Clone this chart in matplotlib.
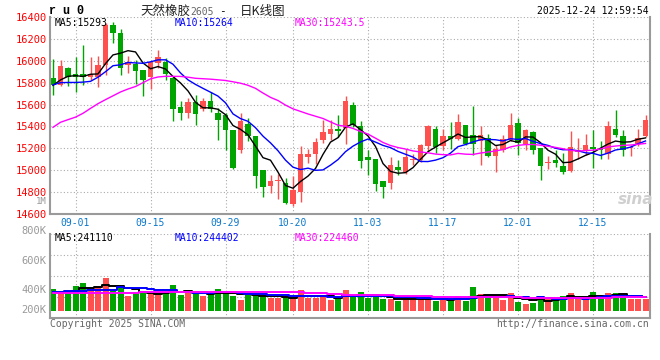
import numpy as np
import pandas as pd
import matplotlib
matplotlib.use("Agg")
import matplotlib.pyplot as plt

# ru0 daily bars, 80 sessions ending 2025-12-24
opens = [15846, 15782, 15937, 15882, 15882, 15852, 15852, 15958, 16330, 16255,
         15960, 15973, 15912, 15855, 15980, 15990, 15846, 15580, 15523, 15620,
         15560, 15634, 15526, 15502, 15363, 15182, 15426, 15310, 15006, 14854,
         14900, 14885, 14695, 14797, 15121, 15152, 15274, 15328, 15380, 15389,
         15600, 15404, 15118, 15104, 14906, 14884, 15025, 14980, 15094, 15090,
         15218, 15380, 15218, 15313, 15289, 15410, 15325, 15264, 15295, 15127,
         15188, 15280, 15435, 15237, 15350, 15206, 15066, 15091, 15039, 14993,
         15170, 15176, 15212, 15188, 15152, 15380, 15313, 15200, 15237, 15310]
highs = [16019, 16004, 15943, 16034, 16141, 16034, 16040, 16345, 16350, 16290,
         16040, 16004, 15915, 16000, 16095, 16025, 15858, 15630, 15660, 15684,
         15660, 15715, 15565, 15523, 15365, 15520, 15478, 15310, 15006, 14955,
         14965, 14930, 14950, 15222, 15190, 15295, 15462, 15456, 15508, 15675,
         15623, 15450, 15182, 15104, 14906, 15120, 15094, 15195, 15152, 15243,
         15416, 15404, 15380, 15441, 15517, 15410, 15584, 15404, 15334, 15234,
         15319, 15526, 15480, 15380, 15359, 15206, 15130, 15188, 15157, 15356,
         15298, 15328, 15371, 15264, 15450, 15553, 15365, 15234, 15380, 15502]
lows = [15684, 15766, 15766, 15715, 15780, 15821, 15761, 15867, 16162, 15870,
        15890, 15785, 15675, 15745, 15935, 15820, 15450, 15456, 15478, 15416,
        15540, 15535, 15280, 15185, 15012, 15158, 15268, 14835, 14755, 14790,
        14733, 14688, 14676, 14707, 15063, 15060, 15246, 15279, 15304, 15243,
        15395, 15022, 14960, 14808, 14747, 14832, 14960, 14965, 15045, 15075,
        15176, 15161, 15182, 15197, 15279, 15226, 15136, 15045, 15120, 14984,
        15170, 15270, 15136, 15182, 15145, 14908, 15015, 15030, 14963, 14984,
        15100, 15140, 15024, 15100, 15100, 15300, 15127, 15130, 15225, 15300]
closes = [15776, 15949, 15852, 15852, 15855, 15876, 15964, 16323, 16250, 15935,
          15990, 15906, 15820, 15985, 16035, 15880, 15560, 15527, 15620, 15517,
          15628, 15558, 15462, 15372, 15022, 15452, 15310, 14945, 14845, 14906,
          14906, 14701, 14820, 15152, 15152, 15256, 15345, 15380, 15355, 15629,
          15410, 15082, 15092, 14870, 14850, 15051, 15000, 15118, 15100, 15228,
          15401, 15212, 15313, 15289, 15441, 15243, 15237, 15325, 15127, 15197,
          15289, 15417, 15249, 15371, 15188, 15036, 15070, 15067, 14984, 15212,
          15182, 15234, 15197, 15182, 15401, 15319, 15182, 15215, 15298, 15462]
# volume in thousands of lots
volumes_k = [374, 318, 328, 425, 476, 369, 408, 566, 340, 403,
             260, 301, 301, 289, 323, 301, 442, 272, 328, 301,
             260, 289, 374, 340, 260, 187, 272, 311, 243, 226,
             226, 226, 226, 357, 216, 226, 272, 187, 226, 357,
             243, 323, 226, 243, 209, 209, 170, 209, 209, 209,
             209, 170, 209, 170, 255, 175, 413, 289, 243, 243,
             187, 306, 158, 119, 141, 255, 204, 221, 255, 306,
             209, 209, 323, 216, 306, 306, 255, 209, 209, 209]

# averages before a full window is on screen
ma5_head = [15775, 15825, 15858, 15864]
ma10_head = [15780, 15800, 15802, 15802, 15805, 15812, 15850, 15900, 15955]
ma30_head = [15392, 15438, 15462, 15485, 15520, 15565, 15608, 15645, 15680, 15715,
             15742, 15765, 15800, 15835, 15852, 15858, 15858, 15857, 15850, 15840,
             15836, 15832, 15826, 15820, 15808, 15795, 15776, 15748, 15705]
vol_ma5_head = [315, 320, 330, 345]
vol_ma10_head = [328, 330, 335, 340, 345, 350, 355, 360, 365]
vol_ma30_head = [301, 301, 301, 301, 301, 301, 301, 301, 301, 301, 301, 301,
                 323, 323, 323, 323, 323, 323, 323, 323, 323, 323, 323, 323,
                 323, 323, 323, 323, 323]

date_labels = ["09-01", "09-15", "09-29", "10-20", "11-03", "11-17", "12-01", "12-15"]
date_index = [3, 13, 23, 32, 42, 52, 62, 72]
price_ticks = [14600, 14800, 15000, 15200, 15400, 15600, 15800, 16000, 16200, 16400]
vol_labels = ["800K", "600K", "400K", "200K"]

price_ma_text = ["MA5:15293", "MA10:15264", "MA30:15243.5"]
vol_ma_text = ["MA5:241110", "MA10:244402", "MA30:224460"]

W, H = 660, 360
RED = "#ff5050"
GREEN = "#00a400"
BLUE_TXT = "#0a78cc"
GRID = "#aaaaaa"
FRAME = "#9a9a9a"
MA_COLORS = ["black", "#0000ff", "#ff00ff"]
MONO = "DejaVu Sans Mono"
CJK = ["Noto Sans CJK SC", "DejaVu Sans"]


def px(x, y):
    return x / W, 1 - y / H


def moving_average(values, window, head):
    ma = pd.Series(values, dtype=float).rolling(window).mean()
    ma.iloc[: len(head)] = head
    return ma.to_numpy()


def style_panel(ax, n):
    for side in ("left", "right", "bottom"):
        ax.spines[side].set_color(FRAME)
        ax.spines[side].set_linewidth(1.5)
    ax.spines["top"].set_visible(False)
    ax.tick_params(length=0)
    ax.grid(True, color=GRID, linestyle=(0, (1, 2)), linewidth=0.8)
    ax.set_axisbelow(True)
    ax.set_xlim(-0.4, n - 0.4)
    ax.set_xticks(date_index)


def main():
    fig = plt.figure(figsize=(W / 100, H / 100), dpi=100)
    fig.patch.set_facecolor("white")

    o, h, l, c = (np.array(a, dtype=float) for a in (opens, highs, lows, closes))
    x = np.arange(len(c))
    colors = np.where(c >= o, RED, GREEN)

    # price panel
    ax = fig.add_axes([50 / W, 1 - 214 / H, 600 / W, 197 / H])
    style_panel(ax, len(c))
    ax.vlines(x, l, h, colors=colors, linewidth=1, zorder=2)
    ax.bar(x, np.maximum(np.abs(c - o), 8), bottom=np.minimum(o, c),
           width=0.75, color=colors, linewidth=0, zorder=2)
    for win, head, col in zip((5, 10, 30), (ma5_head, ma10_head, ma30_head), MA_COLORS):
        ax.plot(x, moving_average(closes, win, head), color=col, linewidth=1, zorder=3)
    ax.set_ylim(price_ticks[0], price_ticks[-1])
    ax.set_yticks(price_ticks)
    ax.set_yticklabels([str(t) for t in price_ticks], color="red",
                       fontfamily=MONO, fontsize=7.5)
    ax.set_xticklabels(date_labels, color=BLUE_TXT, fontfamily=MONO, fontsize=7)
    ax.tick_params(axis="y", pad=2.5)
    ax.tick_params(axis="x", pad=3)

    # volume panel
    axv = fig.add_axes([50 / W, 1 - 318 / H, 600 / W, 84 / H])
    style_panel(axv, len(c))
    vol_lo, vol_hi = -119, 1309
    axv.bar(x, volumes_k, width=0.8, color=colors, linewidth=0, zorder=2)
    for win, head, col in zip((5, 10, 30), (vol_ma5_head, vol_ma10_head, vol_ma30_head),
                              MA_COLORS):
        axv.plot(x, moving_average(volumes_k, win, head), color=col, linewidth=1.4,
                 drawstyle="steps-mid", zorder=3)
    axv.set_ylim(vol_lo, vol_hi)
    axv.set_yticks(np.linspace(vol_lo, vol_hi, 5)[1:])
    axv.set_yticklabels([])
    axv.set_xticklabels([])
    for lab, fy in zip(vol_labels, (1.036, 0.679, 0.333, 0.095)):
        axv.text(-0.006, fy, lab, transform=axv.transAxes, ha="right", va="center",
                 color="#999999", fontfamily=MONO, fontsize=7.5)

    # header
    fig.text(*px(49, 11), "r u 0", fontfamily="Liberation Mono", fontweight="bold",
             fontsize=8.5, va="center")
    fig.text(*px(140, 11), "天然橡胶", family=CJK, fontsize=9, va="center", color="#222222")
    fig.text(*px(190, 12), "2605", fontfamily=MONO, fontsize=7, va="center", color="#666666")
    fig.text(*px(219, 11), "-", fontfamily=MONO, fontsize=8, va="center")
    fig.text(*px(240, 11), "日K线图", family=CJK, fontsize=9, va="center", color="#222222")
    fig.text(*px(649, 11), "2025-12-24 12:59:54", fontfamily=MONO, fontsize=7,
             ha="right", va="center")

    for txt, left, col in zip(price_ma_text, (55, 175, 295), MA_COLORS):
        fig.text(*px(left, 23), txt, fontfamily=MONO, fontsize=7, color=col, va="center")
    for txt, left, col in zip(vol_ma_text, (55, 175, 295), MA_COLORS):
        fig.text(*px(left, 238), txt, fontfamily=MONO, fontsize=7, color=col, va="center")

    fig.text(*px(47, 202), "1M", fontfamily=MONO, fontsize=6.5, color="#999999",
             ha="right", va="center")
    fig.text(*px(636, 200), "sina", fontsize=11, fontstyle="italic", fontweight="bold",
             color="#cfcfcf", ha="center", va="center")

    fig.text(*px(50, 324), "Copyright 2025 SINA.COM", fontfamily=MONO, fontsize=7,
             color="#666666", va="center")
    fig.text(*px(649, 324), "http://finance.sina.com.cn", fontfamily=MONO, fontsize=7,
             color="#666666", ha="right", va="center")

    fig.savefig("out.png", dpi=100, facecolor="white")
    plt.close(fig)


if __name__ == "__main__":
    main()
